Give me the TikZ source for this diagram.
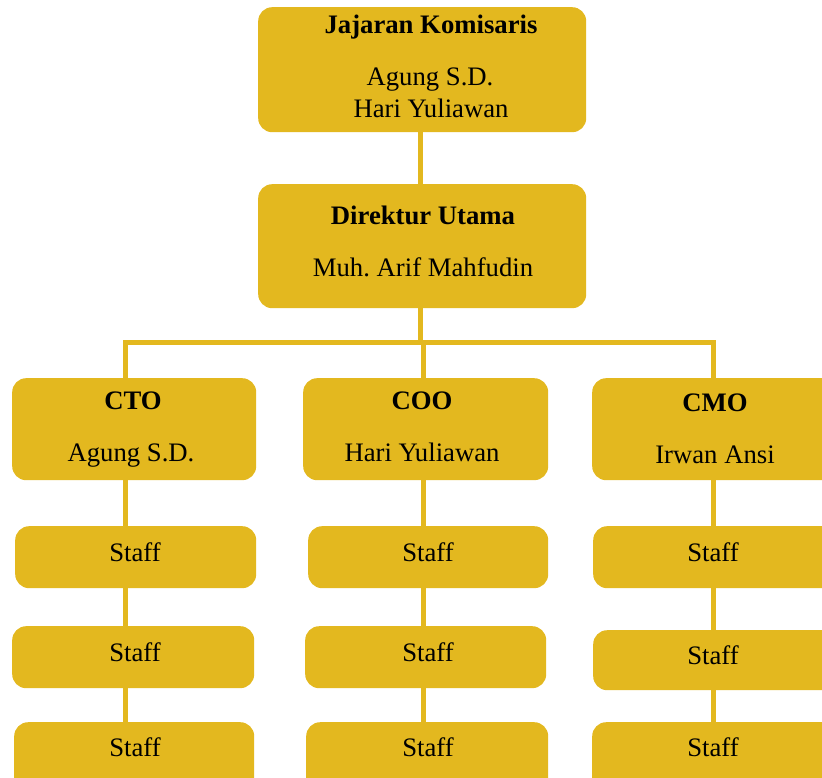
\documentclass[tikz,border=0pt]{standalone}
\usepackage{fontspec}
\setmainfont{Liberation Serif}
\usetikzlibrary{backgrounds}
\definecolor{gold}{HTML}{E3B81F}
\frenchspacing
\begin{document}
\begin{tikzpicture}[x=1pt,y=-1pt,
  box/.style={fill=gold, rounded corners=14pt, inner sep=0pt, anchor=north west},
  txt/.style={font=\fontsize{26.7}{30}\selectfont, inner sep=0pt, anchor=base},
  ttl/.style={font=\fontsize{26.7}{30}\selectfont\bfseries, inner sep=0pt, anchor=base},
  conn/.style={draw=gold, line width=5pt}]
\useasboundingbox (0,0) rectangle (822,778);
\clip (0,0) rectangle (822,778);
% boxes
\node[box, minimum width=328pt, minimum height=125pt] (kom) at (258,7) {};
\node[box, minimum width=328pt, minimum height=124pt] (dir) at (258,184) {};
\node[box, minimum width=244pt, minimum height=102pt] (cto) at (12,378) {};
\node[box, minimum width=245pt, minimum height=102pt] (coo) at (303,378) {};
\node[box, minimum width=245pt, minimum height=102pt] (cmo) at (592,378) {};
\node[box, minimum width=241pt, minimum height=62pt] (s11) at (15,526) {};
\node[box, minimum width=242pt, minimum height=62pt] (s12) at (12,626) {};
\node[box, minimum width=240pt, minimum height=70pt] (s13) at (14,722) {};
\node[box, minimum width=240pt, minimum height=62pt] (s21) at (308,526) {};
\node[box, minimum width=241pt, minimum height=62pt] (s22) at (305,626) {};
\node[box, minimum width=242pt, minimum height=70pt] (s23) at (306,722) {};
\node[box, minimum width=245pt, minimum height=62pt] (s31) at (593,526) {};
\node[box, minimum width=245pt, minimum height=60pt] (s32) at (593,630) {};
\node[box, minimum width=245pt, minimum height=70pt] (s33) at (592,722) {};
% texts
\node[ttl] (t1) at (431,33.5) {Jajaran Komisaris};
\node[txt] (t2) at (430,85.5) {Agung S.D.};
\node[txt] (t3) at (431,117.5) {Hari Yuliawan};
\node[ttl] (t4) at (423,224.5) {Direktur Utama};
\node[txt] (t5) at (423,276.5) {Muh. Arif Mahfudin};
\node[ttl] (t6) at (133,409) {CTO};
\node[txt] (t7) at (131,461) {Agung S.D.};
\node[ttl] (t8) at (422,409) {COO};
\node[txt] (t9) at (422,461) {Hari Yuliawan};
\node[ttl] (t10) at (715,411) {CMO};
\node[txt] (t11) at (715,463) {Irwan Ansi};
\node[txt] (a1) at (135,561.5) {Staff};
\node[txt] (a2) at (135,661.5) {Staff};
\node[txt] (a3) at (135,756.5) {Staff};
\node[txt] (b1) at (428,561.5) {Staff};
\node[txt] (b2) at (428,661.5) {Staff};
\node[txt] (b3) at (428,756.5) {Staff};
\node[txt] (c1) at (713,561.5) {Staff};
\node[txt] (c2) at (713,664.5) {Staff};
\node[txt] (c3) at (713,756.5) {Staff};
% connectors
\coordinate (bL) at (125,342);
\coordinate (bM) at (420,342);
\coordinate (bR) at (713,342);
\coordinate (cM) at (423,342);
\begin{scope}[on background layer]
\draw[conn] (kom.south -| bM) -- (dir.north -| bM);
\draw[conn] (dir.south -| bM) -- (bM);
\draw[conn, line join=miter] (cto.north -| bL) -- (bL) -- (bR) -- (cmo.north -| bR);
\draw[conn] (cM) -- (coo.north -| cM);
\draw[conn] (cto.south -| bL) -- (s11.north -| bL);
\draw[conn] (s11.south -| bL) -- (s12.north -| bL);
\draw[conn] (s12.south -| bL) -- (s13.north -| bL);
\draw[conn] (coo.south -| cM) -- (s21.north -| cM);
\draw[conn] (s21.south -| cM) -- (s22.north -| cM);
\draw[conn] (s22.south -| cM) -- (s23.north -| cM);
\draw[conn] (cmo.south -| bR) -- (s31.north -| bR);
\draw[conn] (s31.south -| bR) -- (s32.north -| bR);
\draw[conn] (s32.south -| bR) -- (s33.north -| bR);
\end{scope}
\end{tikzpicture}
\end{document}
